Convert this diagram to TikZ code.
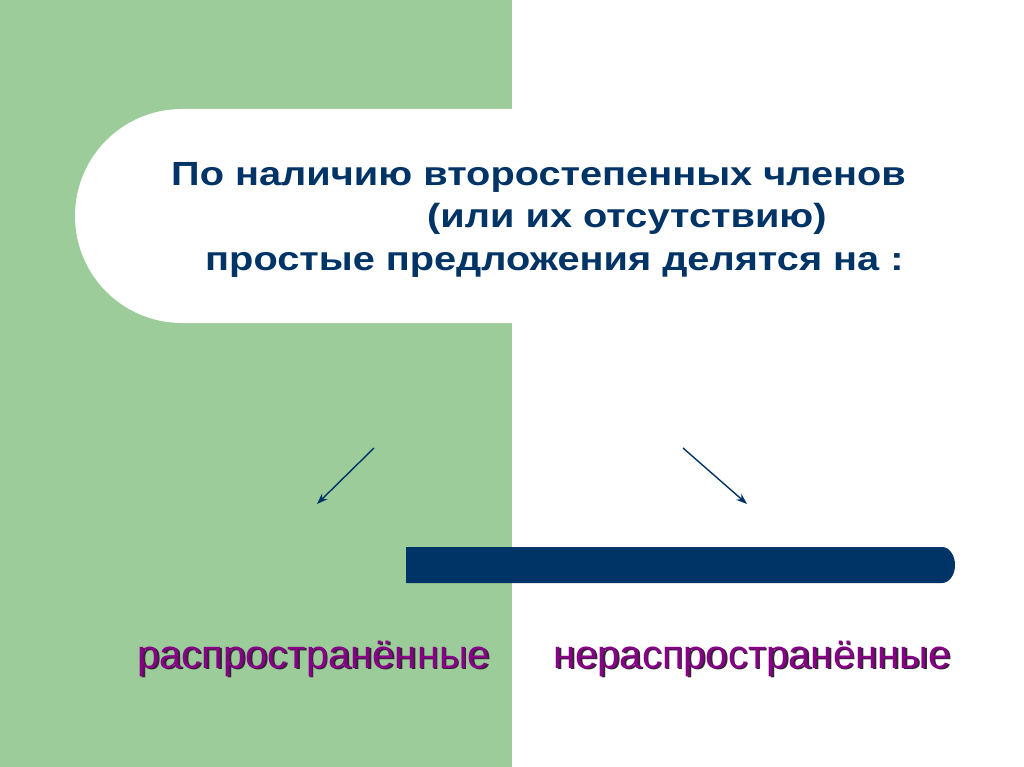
\documentclass[tikz,border=0pt]{standalone}
\usepackage{fontspec}
\setmainfont{Liberation Sans}
\usetikzlibrary{arrows.meta}
\definecolor{slidegreen}{RGB}{155,204,153}
\definecolor{slideblue}{RGB}{0,51,102}
\definecolor{slidepurple}{RGB}{136,0,136}
\definecolor{slideshadow}{RGB}{55,35,55}
\newcommand{\shtext}[1]{{\color{slideshadow}\rlap{\kern1.8pt\raisebox{-1.8pt}{#1}}}#1}
\tikzset{title/.style={font=\bfseries\fontsize{33.5}{40}\selectfont, text=slideblue,
    anchor=base west, inner sep=0pt, xscale=1.186},
  kind/.style={font=\fontsize{40}{48}\selectfont, text=slidepurple,
    anchor=base west, inner sep=0pt},
  pointer/.style={draw=slideblue, line width=1.4pt, -{Stealth[length=11pt,width=8pt]}}}

\begin{document}
\begin{tikzpicture}[x=1pt,y=-1pt]
  \useasboundingbox (0,0) rectangle (1024,767);
  \fill[white] (0,0) rectangle (1024,767);
  \fill[slidegreen] (0,0) rectangle (512,767);
  \fill[white] (1024,109) -- (182,109) arc[start angle=-90,end angle=-270,radius=107]
    -- (1024,323) -- cycle;
  \fill[slideblue] (406,547) -- (942,547) arc[start angle=-90,end angle=90,x radius=13,y radius=18]
    -- (406,583) -- cycle;
  \node[title] (l1) at (171,186) {По наличию второстепенных членов};
  \node[title] (l2) at (427,228) {(или их отсутствию)};
  \node[title] (l3) at (205,270) {простые предложения делятся на :};
  \coordinate (s1) at (374,448);
  \coordinate (t1) at (317,504);
  \coordinate (s2) at (683,448);
  \coordinate (t2) at (747,504);
  \draw[pointer] (s1)--(t1);
  \draw[pointer] (s2)--(t2);
  \node[kind] (k1) at (137,668) {\shtext{распространённые}};
  \node[kind] (k2) at (553,668) {\shtext{нераспространённые}};
\end{tikzpicture}
\end{document}
